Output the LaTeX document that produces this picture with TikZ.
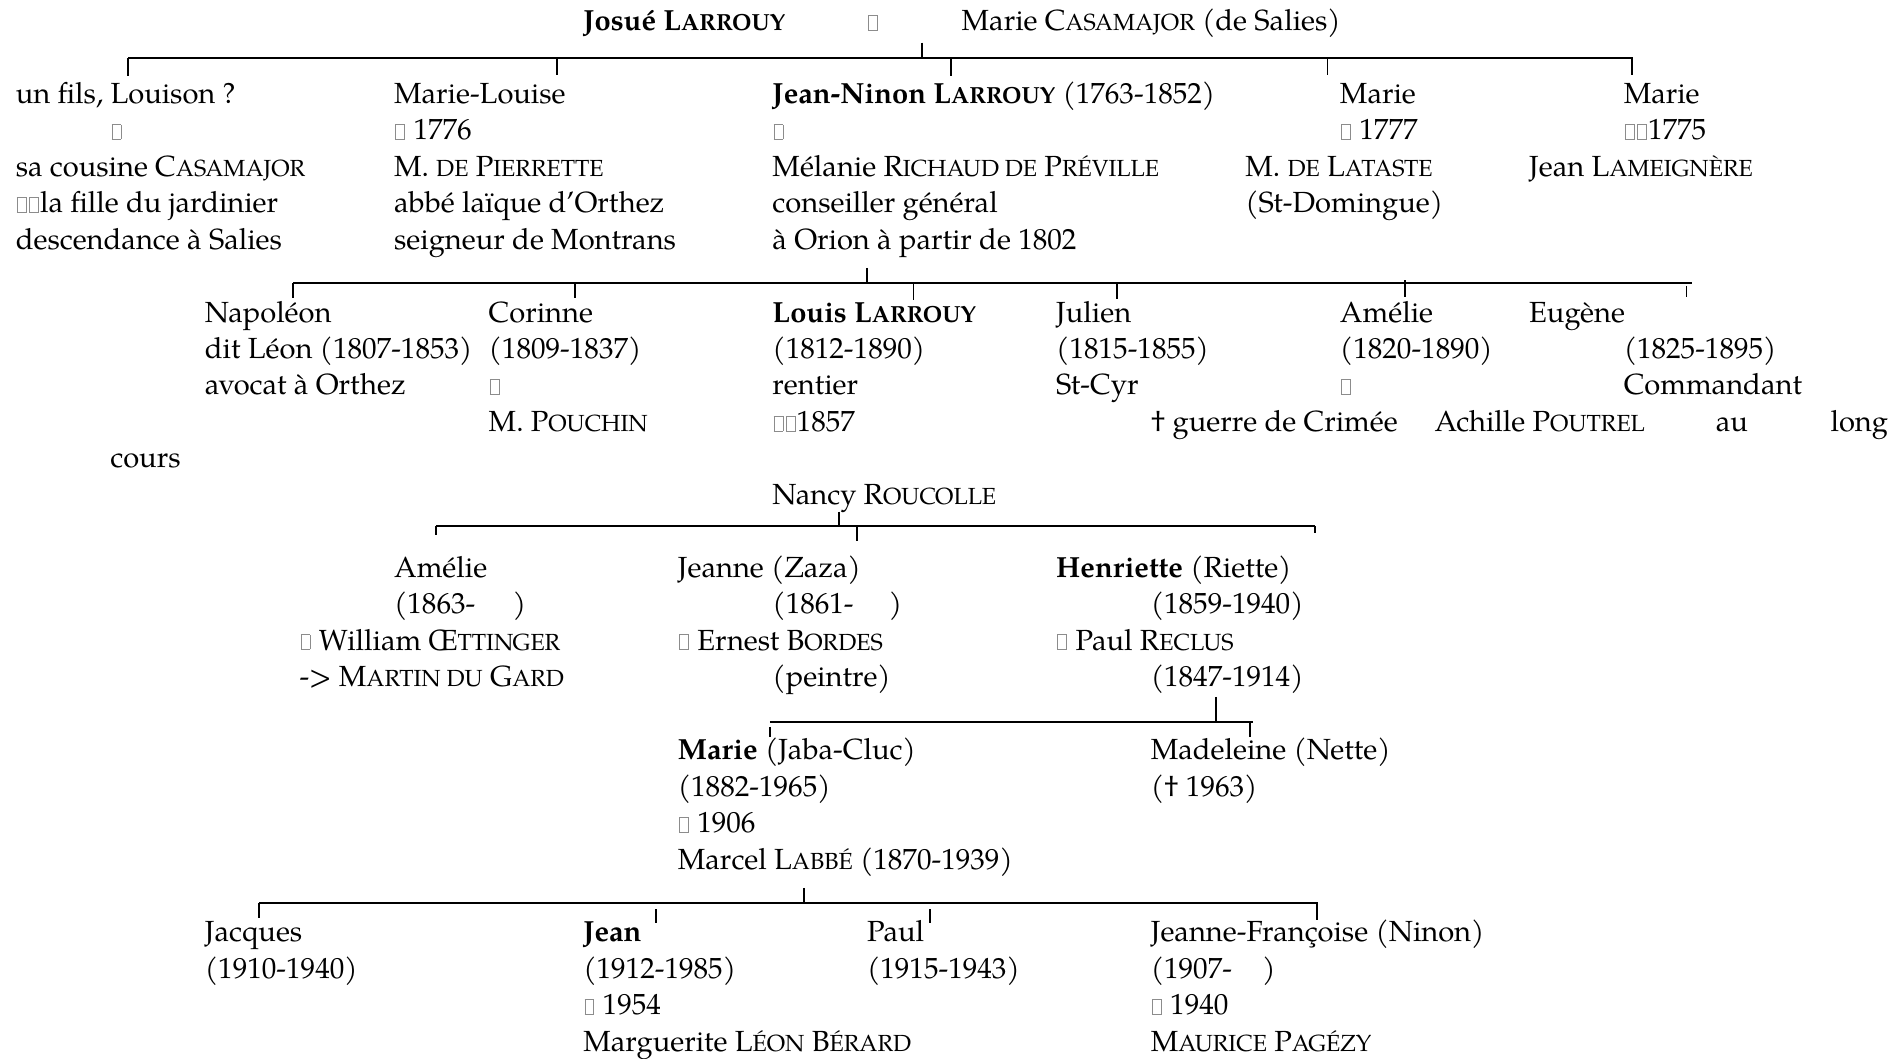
\documentclass[tikz,border=0pt]{standalone}
\usepackage{fontspec}
\setmainfont{texgyrepagella}[Extension=.otf, UprightFont=*-regular, BoldFont=*-bold, ItalicFont=*-italic, BoldItalicFont=*-bolditalic]
\newcommand\tofu{\hbox to 10pt{\hskip1pt\textcolor{black!45}{\vbox{\hrule height 0.6pt\hbox{\vrule width 0.6pt height 11.8pt\hskip 6.8pt\vrule width 0.6pt}\hrule height 0.6pt}}\hss}}
\newcommand\smc[1]{{\fontsize{19.2pt}{30pt}\selectfont\MakeUppercase{#1}}}
\begin{document}
\begin{tikzpicture}[x=1pt,y=-1pt,
  txt/.style={inner sep=0pt, outer sep=0pt, anchor=base west, font=\fontsize{24pt}{30pt}\selectfont},
  txtr/.style={txt, anchor=base east},
  bar/.style={line width=1.8pt},
  tick/.style={line width=1.1pt}]
\useasboundingbox (0,0) rectangle (1565,872);

% ---- generation 0
\node[txt] (josue) at (480.7,25) {\textbf{Josué L\smc{arrouy}}};
\node[txt] (tf0) at (714.55,25) {\tofu};
\node[txt] (casa) at (792.5,25) {Marie C\smc{asamajor} (de Salies)};

% ---- generation 1
\node[txt] (a1) at (13,85.1) {un fils, Louison ?};
\node[txt] (a2) at (90.95,115.15) {\tofu};
\node[txt] (a3) at (13,145.2) {sa cousine C\smc{asamajor}};
\node[txt] (a4) at (13,175.25) {\tofu\tofu la fille du jardinier};
\node[txt] (a5) at (13,205.3) {descendance à Salies};

\node[txt] (b1) at (324.8,85.1) {Marie-Louise};
\node[txt] (b2) at (324.8,115.15) {\tofu{} 1776};
\node[txt] (b3) at (324.8,145.2) {M. \smc{de} P\smc{ierrette}};
\node[txt] (b4) at (324.8,175.25) {abbé laïque d’Orthez};
\node[txt] (b5) at (324.8,205.3) {seigneur de Montrans};

\node[txt] (c1) at (636.6,85.1) {\textbf{Jean-Ninon L\smc{arrouy}} (1763-1852)};
\node[txt] (c2) at (636.6,115.15) {\tofu};
\node[txt] (c3) at (636.6,145.2) {Mélanie R\smc{ichaud de} P\smc{réville}};
\node[txt] (c4) at (636.6,175.25) {conseiller général};
\node[txt] (c5) at (636.6,205.3) {à Orion à partir de 1802};

\node[txt] (d1) at (1104.3,85.1) {Marie};
\node[txt] (d2) at (1104.3,115.15) {\tofu{} 1777};
\node[txt] (d3) at (1026.35,145.2) {M. \smc{de} L\smc{ataste}};
\node[txt] (d4) at (1026.35,175.25) {(St-Domingue)};

\node[txt] (e1) at (1338.15,85.1) {Marie};
\node[txt] (e2) at (1338.15,115.15) {\tofu\tofu 1775};
\node[txt] (e3) at (1260.2,145.2) {Jean L\smc{ameignère}};

% ---- generation 2
\node[txt] (n1) at (168.9,265.4) {Napoléon};
\node[txt] (n2) at (168.9,295.45) {dit Léon (1807-1853)};
\node[txt] (n3) at (168.9,325.5) {avocat à Orthez};

\node[txt] (o1) at (402.75,265.4) {Corinne};
\node[txt] (o2) at (402.75,295.45) {(1809-1837)};
\node[txt] (o3) at (402.75,325.5) {\tofu};
\node[txt] (o4) at (402.75,355.55) {M. P\smc{ouchin}};

\node[txt] (l1) at (636.6,265.4) {\textbf{Louis L\smc{arrouy}}};
\node[txt] (l2) at (636.6,295.45) {(1812-1890)};
\node[txt] (l3) at (636.6,325.5) {rentier};
\node[txt] (l4) at (636.6,355.55) {\tofu\tofu 1857};

\node[txt] (ju1) at (870.45,265.4) {Julien};
\node[txt] (ju2) at (870.45,295.45) {(1815-1855)};
\node[txt] (ju3) at (870.45,325.5) {St-Cyr};
\node[txt] (ju4) at (948.4,355.55) {† guerre de Crimée};

\node[txt] (am1) at (1104.3,265.4) {Amélie};
\node[txt] (am2) at (1104.3,295.45) {(1820-1890)};
\node[txt] (am3) at (1104.3,325.5) {\tofu};
\node[txt] (am4) at (1182.25,355.55) {Achille P\smc{outrel}};

\node[txt] (eu1) at (1260.2,265.4) {Eugène};
\node[txt] (eu2) at (1338.15,295.45) {(1825-1895)};
\node[txt] (eu3) at (1338.15,325.5) {Commandant};
\node[txt] (eu4) at (1414,355.55) {au};
\node[txtr] (eu5) at (1556,355.55) {long};
\node[txt] (eu6) at (90.95,385.6) {cours};

\node[txt] (nancy) at (636.6,415.65) {Nancy R\smc{oucolle}};

% ---- generation 3
\node[txt] (ame1) at (324.8,475.75) {Amélie};
\node[txt] (ame2) at (324.8,505.8) {(1863-\hspace{31pt})};
\node[txt] (ame3) at (246.85,535.85) {\tofu{} William Œ\smc{ttinger}};
\node[txt] (ame4) at (246.85,565.9) {-> M\smc{artin du} G\smc{ard}};

\node[txt] (jea1) at (558.65,475.75) {Jeanne (Zaza)};
\node[txt] (jea2) at (636.6,505.8) {(1861-\hspace{29pt})};
\node[txt] (jea3) at (558.65,535.85) {\tofu{} Ernest B\smc{ordes}};
\node[txt] (jea4) at (636.6,565.9) {(peintre)};

\node[txt] (hen1) at (870.45,475.75) {\textbf{Henriette} (Riette)};
\node[txt] (hen2) at (948.4,505.8) {(1859-1940)};
\node[txt] (hen3) at (870.45,535.85) {\tofu{} Paul R\smc{eclus}};
\node[txt] (hen4) at (948.4,565.9) {(1847-1914)};

% ---- generation 4
\node[txt] (mar1) at (558.65,626) {\textbf{Marie} (Jaba-Cluc)};
\node[txt] (mar2) at (558.65,656.05) {(1882-1965)};
\node[txt] (mar3) at (558.65,686.1) {\tofu{} 1906};
\node[txt] (mar4) at (558.65,716.15) {Marcel L\smc{abbé} (1870-1939)};

\node[txt] (mad1) at (948.4,626) {Madeleine (Nette)};
\node[txt] (mad2) at (948.4,656.05) {(† 1963)};

% ---- generation 5
\node[txt] (jac1) at (168.9,776.25) {Jacques};
\node[txt] (jac2) at (168.9,806.3) {(1910-1940)};

\node[txt] (jn1) at (480.7,776.25) {\textbf{Jean}};
\node[txt] (jn2) at (480.7,806.3) {(1912-1985)};
\node[txt] (jn3) at (480.7,836.35) {\tofu{} 1954};
\node[txt] (jn4) at (480.7,866.4) {Marguerite L\smc{éon} B\smc{érard}};

\node[txt] (pa1) at (714.55,776.25) {Paul};
\node[txt] (pa2) at (714.55,806.3) {(1915-1943)};

\node[txt] (jf1) at (948.4,776.25) {Jeanne-Françoise (Ninon)};
\node[txt] (jf2) at (948.4,806.3) {(1907-\hspace{25pt})};
\node[txt] (jf3) at (948.4,836.35) {\tofu{} 1940};
\node[txt] (jf4) at (948.4,866.4) {M\smc{aurice} P\smc{agézy}};

% ---- connector 1
\coordinate (p1t) at (759.8,35.2);   \coordinate (p1b) at (759.8,47.8);
\coordinate (h1l) at (105.5,47.8);   \coordinate (h1r) at (1345.5,47.8);
\coordinate (k1at) at (105.5,47.8);  \coordinate (k1ab) at (105.5,63);
\coordinate (k1bt) at (459,47.8);    \coordinate (k1bb) at (459,62);
\coordinate (k1ct) at (783.7,47.8);  \coordinate (k1cb) at (783.7,63);
\coordinate (k1dt) at (1094,47.8);   \coordinate (k1db) at (1094,62);
\coordinate (k1et) at (1345,47.8);   \coordinate (k1eb) at (1345,62);
\draw[bar] (h1l) -- (h1r);
\draw[tick] (p1t) -- (p1b);
\draw[tick] (k1at) -- (k1ab);
\draw[tick] (k1bt) -- (k1bb);
\draw[tick] (k1ct) -- (k1cb);
\draw[tick] (k1dt) -- (k1db);
\draw[tick] (k1et) -- (k1eb);

% ---- connector 2
\coordinate (p2t) at (714.5,220.8);  \coordinate (p2b) at (714.5,233);
\coordinate (h2l) at (241.5,233);    \coordinate (h2r) at (1394,233);
\coordinate (k2at) at (241.5,233);   \coordinate (k2ab) at (241.5,245.6);
\coordinate (k2bt) at (473.8,233);   \coordinate (k2bb) at (473.8,245.6);
\coordinate (k2ct) at (753,233);     \coordinate (k2cb) at (753,247);
\coordinate (k2dt) at (920.5,233);   \coordinate (k2db) at (920.5,246);
\coordinate (k2et) at (1157.8,231);  \coordinate (k2eb) at (1157.8,245);
\coordinate (k2ft) at (1390,235.5);  \coordinate (k2fb) at (1390,245);
\draw[bar] (h2l) -- (h2r);
\draw[tick] (p2t) -- (p2b);
\draw[tick] (k2at) -- (k2ab);
\draw[tick] (k2bt) -- (k2bb);
\draw[tick] (k2ct) -- (k2cb);
\draw[tick] (k2dt) -- (k2db);
\draw[tick] (k2et) -- (k2eb);
\draw[tick] (k2ft) -- (k2fb);

% ---- connector 3
\coordinate (p3t) at (691.4,421.7);  \coordinate (p3b) at (691.4,433.5);
\coordinate (h3l) at (359.3,433.5);  \coordinate (h3r) at (1083.7,433.5);
\coordinate (k3at) at (359.3,433.5); \coordinate (k3ab) at (359.3,441);
\coordinate (k3bt) at (706.2,433.5); \coordinate (k3bb) at (706.2,445.6);
\coordinate (k3ct) at (1083.7,433.5);\coordinate (k3cb) at (1083.7,439);
\draw[bar] (h3l) -- (h3r);
\draw[tick] (p3t) -- (p3b);
\draw[tick] (k3at) -- (k3ab);
\draw[tick] (k3bt) -- (k3bb);
\draw[tick] (k3ct) -- (k3cb);

% ---- connector 4
\coordinate (p4t) at (1002,574.4);   \coordinate (p4b) at (1002,595);
\coordinate (h4l) at (634.5,595);    \coordinate (h4r) at (1032.6,595);
\coordinate (k4at) at (634.5,599);   \coordinate (k4ab) at (634.5,607);
\coordinate (k4bt) at (1030,595);    \coordinate (k4bb) at (1030,607.5);
\draw[bar] (h4l) -- (h4r);
\draw[tick] (p4t) -- (p4b);
\draw[tick] (k4at) -- (k4ab);
\draw[tick] (k4bt) -- (k4bb);

% ---- connector 5
\coordinate (p5t) at (662.5,731.8);  \coordinate (p5b) at (662.5,744);
\coordinate (h5l) at (213.4,744);    \coordinate (h5r) at (1086,744);
\coordinate (k5at) at (213.4,744);   \coordinate (k5ab) at (213.4,756.5);
\coordinate (k5bt) at (540.6,749.4); \coordinate (k5bb) at (540.6,760.3);
\coordinate (k5ct) at (766.4,749.4); \coordinate (k5cb) at (766.4,760.3);
\coordinate (k5dt) at (1085.3,744);  \coordinate (k5db) at (1085.3,758);
\draw[bar] (h5l) -- (h5r);
\draw[tick] (p5t) -- (p5b);
\draw[tick] (k5at) -- (k5ab);
\draw[tick] (k5bt) -- (k5bb);
\draw[tick] (k5ct) -- (k5cb);
\draw[tick] (k5dt) -- (k5db);
\end{tikzpicture}
\end{document}
